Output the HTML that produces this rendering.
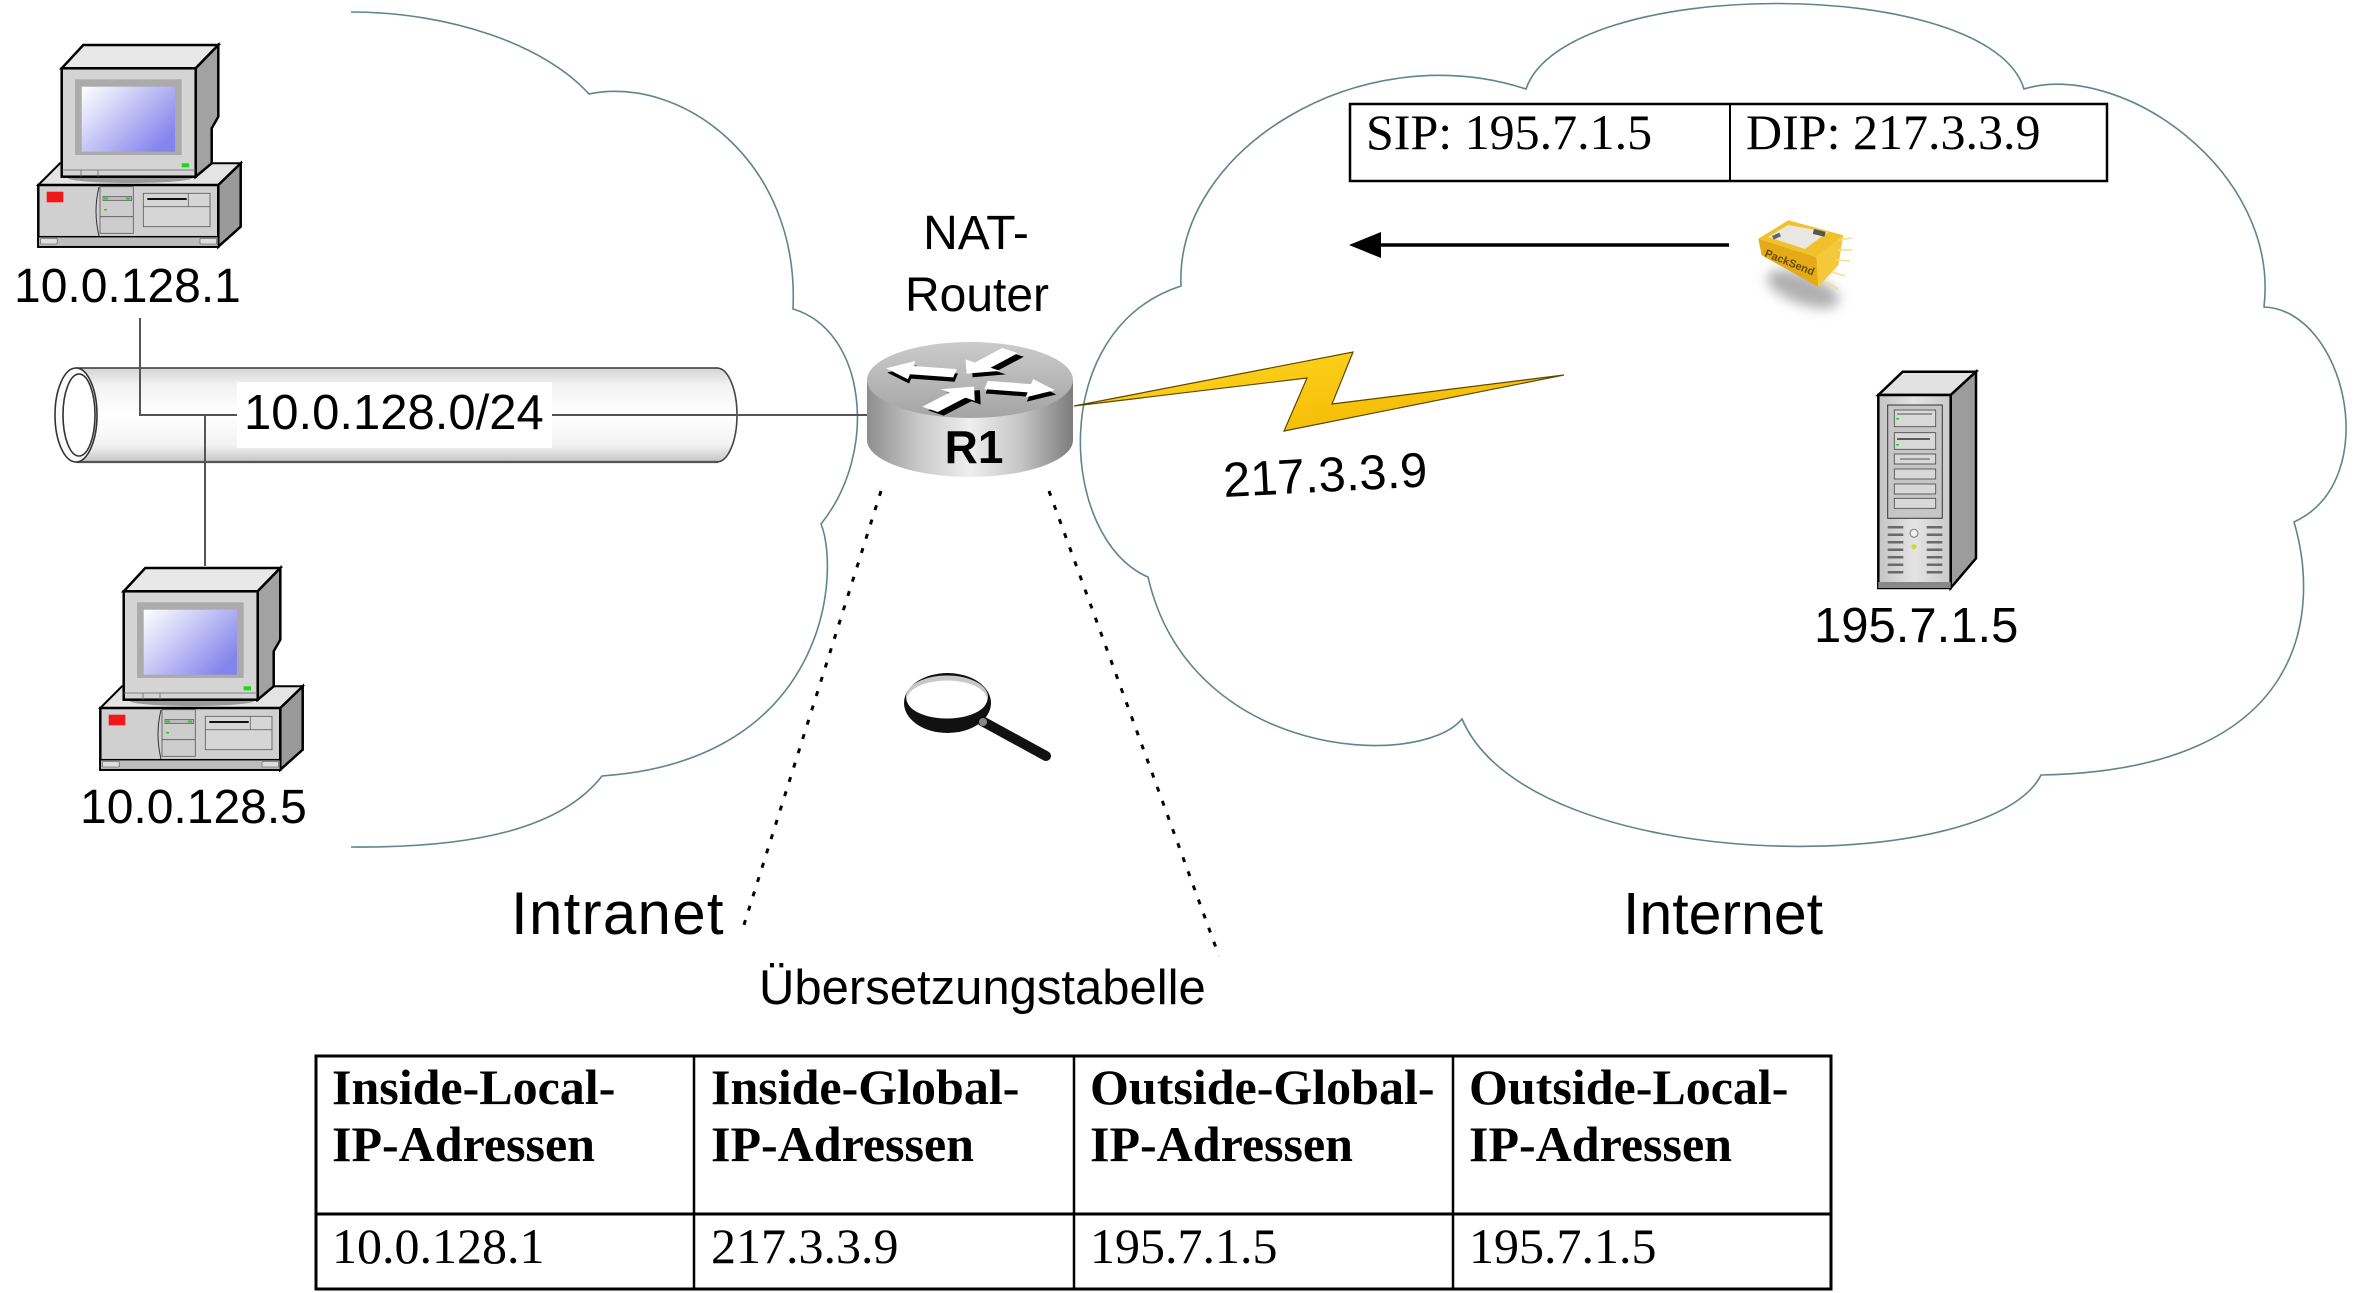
<!DOCTYPE html>
<html>
<head>
<meta charset="utf-8">
<style>
html,body{margin:0;padding:0;background:#fff;}
svg{display:block;}
.s{font-family:"Liberation Sans",Arial,sans-serif;fill:#000;}
.t{font-family:"Liberation Serif","Times New Roman",serif;fill:#000;}
</style>
</head>
<body>
<svg width="2372" height="1293" viewBox="0 0 2372 1293" xmlns="http://www.w3.org/2000/svg">
<defs>
  <linearGradient id="scr" x1="0" y1="0" x2="1" y2="0.7">
    <stop offset="0" stop-color="#ffffff"/>
    <stop offset="0.35" stop-color="#d6d6f8"/>
    <stop offset="1" stop-color="#8484ee"/>
  </linearGradient>
  <linearGradient id="tube" x1="0" y1="0" x2="0" y2="1">
    <stop offset="0" stop-color="#d4d4d4"/>
    <stop offset="0.18" stop-color="#f2f2f2"/>
    <stop offset="0.5" stop-color="#ffffff"/>
    <stop offset="0.82" stop-color="#f2f2f2"/>
    <stop offset="1" stop-color="#c4c4c4"/>
  </linearGradient>
  <linearGradient id="rbody" x1="0" y1="0" x2="1" y2="0">
    <stop offset="0" stop-color="#8e8e8e"/>
    <stop offset="0.25" stop-color="#c8c8c8"/>
    <stop offset="0.5" stop-color="#efefef"/>
    <stop offset="0.75" stop-color="#c4c4c4"/>
    <stop offset="1" stop-color="#7c7c7c"/>
  </linearGradient>
  <linearGradient id="rtop" x1="0" y1="0" x2="0" y2="1">
    <stop offset="0" stop-color="#cbcbcb"/>
    <stop offset="1" stop-color="#a4a4a4"/>
  </linearGradient>
  <linearGradient id="bolt" x1="0" y1="0" x2="1" y2="1">
    <stop offset="0" stop-color="#ffd820"/>
    <stop offset="1" stop-color="#f2b400"/>
  </linearGradient>
  <linearGradient id="srv" x1="0" y1="0" x2="1" y2="0">
    <stop offset="0" stop-color="#c4c4c4"/>
    <stop offset="0.5" stop-color="#e4e4e4"/>
    <stop offset="1" stop-color="#cacaca"/>
  </linearGradient>
  <filter id="blur" x="-50%" y="-50%" width="200%" height="200%">
    <feGaussianBlur stdDeviation="6"/>
  </filter>
  <g id="pc">
    <polygon points="38.3,185 60,163.3 240.7,163.3 218.3,185" fill="#e4e4e4" stroke="#000" stroke-width="2"/>
    <rect x="38.3" y="185" width="180" height="61.7" fill="#d0d0d0" stroke="#000" stroke-width="2.5"/>
    <polygon points="218.3,185 240.7,163.3 240.7,226.7 218.3,246.7" fill="#9a9a9a" stroke="#000" stroke-width="2.5"/>
    <rect x="46.7" y="191.7" width="16.6" height="10.6" fill="#f01818"/>
    <path d="M99,187 Q93,211 99,236" fill="none" stroke="#333" stroke-width="1"/>
    <rect x="100" y="186.7" width="33.3" height="46.6" fill="#cdcdcd" stroke="#555" stroke-width="0.8"/>
    <line x1="100" y1="216.7" x2="133.3" y2="216.7" stroke="#555" stroke-width="0.8"/>
    <rect x="103" y="196.5" width="28.7" height="4" fill="#bbb" stroke="#444" stroke-width="0.6"/>
    <rect x="104" y="197.5" width="4" height="2" fill="#2c2"/>
    <rect x="126" y="197.5" width="4" height="2" fill="#2c2"/>
    <rect x="104" y="209" width="3" height="1.5" fill="#2c2"/>
    <rect x="143.3" y="193.3" width="66.7" height="33.4" fill="#d6d6d6" stroke="#555" stroke-width="0.8"/>
    <line x1="143.3" y1="206.7" x2="210" y2="206.7" stroke="#666" stroke-width="0.8"/>
    <line x1="188.3" y1="193.3" x2="188.3" y2="206.7" stroke="#666" stroke-width="0.8"/>
    <rect x="147.3" y="198" width="39.4" height="2" fill="#111"/>
    <rect x="38.3" y="236.7" width="180" height="10" fill="#bdbdbd" stroke="#000" stroke-width="1.5"/>
    <rect x="40.5" y="238.3" width="16.7" height="5.7" fill="#ddd" stroke="#555" stroke-width="0.6" rx="1"/>
    <rect x="200" y="238.3" width="16.7" height="5.7" fill="#ddd" stroke="#555" stroke-width="0.6" rx="1"/>
    <ellipse cx="130" cy="178" rx="62" ry="5" fill="#9a9a9a"/>
    <polygon points="61.7,68.3 83.3,45 218.3,45 195.7,68.3" fill="#e8e8e8" stroke="#000" stroke-width="2.5"/>
    <polygon points="195.7,68.3 218.3,45 218.3,116.7 211.7,128.3 211.7,163.3 195.7,176.7" fill="#a2a2a2" stroke="#000" stroke-width="2.5"/>
    <rect x="61.7" y="68.3" width="134" height="108.4" fill="#d4d4d4" stroke="#000" stroke-width="2.5"/>
    <rect x="75" y="79.3" width="106.7" height="75.7" fill="#ababab"/>
    <rect x="81.7" y="86.7" width="93.3" height="65" fill="url(#scr)"/>
    <rect x="181.7" y="163.3" width="7.3" height="4" fill="#1d1"/>
    <line x1="61.7" y1="170" x2="195.7" y2="170" stroke="#666" stroke-width="0.8"/>
    <line x1="81" y1="170" x2="81" y2="176.7" stroke="#666" stroke-width="0.8"/>
    <line x1="98" y1="170" x2="98" y2="176.7" stroke="#666" stroke-width="0.8"/>
  </g>
  <g id="arr">
    <polygon points="0,-10 0,10 -44,10 -44,22 -70,0 -44,-22 -44,-10" />
  </g>
</defs>

<!-- Left cloud (partial) -->
<path d="M351,12 C450,12 545,45 589,94 C680,75 800,160 793,309 C865,330 880,450 821,524 C840,570 830,760 602,776 C560,830 470,848 351,847"
      fill="none" stroke="#5e858b" stroke-width="1.6"/>

<!-- Right cloud -->
<path d="M1526,89 C1565,-25 1990,-25 2024,89 C2120,60 2280,170 2264,307 C2345,310 2385,480 2294,522 C2320,610 2310,770 2041,775 C1990,878 1530,878 1462,719 C1420,770 1190,760 1148,577 C1060,540 1045,330 1181,286 C1175,150 1360,35 1526,89 Z"
      fill="none" stroke="#5e858b" stroke-width="1.6"/>

<!-- PCs -->
<use href="#pc"/>
<use href="#pc" transform="translate(62,523)"/>

<!-- Tube -->
<path d="M76,368 L717,368 A20,47 0 0 1 717,462 L76,462 Z" fill="url(#tube)" stroke="none"/>
<line x1="76" y1="368" x2="718" y2="368" stroke="#333" stroke-width="1.6"/>
<line x1="76" y1="462" x2="718" y2="462" stroke="#555" stroke-width="2.2"/>
<path d="M717,368 A20,47 0 0 1 717,462" fill="none" stroke="#444" stroke-width="1.6"/>
<ellipse cx="76" cy="415" rx="21" ry="47" fill="#fbfbfb" stroke="#333" stroke-width="1.6"/>
<ellipse cx="79" cy="415" rx="16" ry="41" fill="#fff" stroke="#333" stroke-width="1.6"/>

<!-- Connection lines -->
<polyline points="140,318 140,415 238,415" fill="none" stroke="#555" stroke-width="2"/>
<line x1="205" y1="415" x2="205" y2="566" stroke="#555" stroke-width="2"/>
<line x1="552" y1="415" x2="868" y2="415" stroke="#555" stroke-width="2"/>
<rect x="237" y="382" width="315" height="66" fill="#fff"/>

<!-- Router -->
<path d="M867,380 L867,440 A103,37 0 0 0 1073,440 L1073,380 Z" fill="url(#rbody)"/>
<ellipse cx="970" cy="380" rx="103" ry="38" fill="url(#rtop)"/>
<g transform="translate(970,380) scale(1,0.42)">
  <g transform="translate(-15,-16) rotate(9.9)"><use href="#arr" transform="translate(3,10)" fill="#000"/><use href="#arr" fill="#fff"/></g>
  <g transform="translate(40,-70) rotate(-51.7)"><use href="#arr" transform="translate(-3,10)" fill="#000"/><use href="#arr" fill="#fff"/></g>
  <g transform="translate(-40,70) rotate(129)"><use href="#arr" transform="translate(3,-10)" fill="#000"/><use href="#arr" fill="#fff"/></g>
  <g transform="translate(16,12) rotate(189.9)"><use href="#arr" transform="translate(-3,-10)" fill="#000"/><use href="#arr" fill="#fff"/></g>
</g>
<text class="s" x="974" y="463" font-size="46" font-weight="bold" text-anchor="middle">R1</text>

<!-- Lightning -->
<polygon points="1074,406 1307,378 1284,431 1564,375 1332,404 1353,352" fill="url(#bolt)" stroke="#5a4800" stroke-width="1.2" stroke-linejoin="miter"/>

<!-- Dotted lines -->
<line x1="881" y1="491" x2="742" y2="931" stroke="#000" stroke-width="3" stroke-dasharray="5 10"/>
<line x1="1049" y1="491" x2="1219" y2="956" stroke="#000" stroke-width="3" stroke-dasharray="5 10"/>

<!-- Magnifier -->
<line x1="982" y1="721" x2="1046" y2="756" stroke="#111" stroke-width="10" stroke-linecap="round"/>
<ellipse cx="947.5" cy="703" rx="43.5" ry="30" fill="#111"/>
<ellipse cx="947" cy="697" rx="41" ry="21.5" fill="#c8c8c8"/>
<ellipse cx="947" cy="699.5" rx="40" ry="19" fill="#fff"/>
<circle cx="983" cy="722" r="4" fill="#888"/>

<!-- Packet -->
<ellipse cx="1803" cy="289" rx="38" ry="15" transform="rotate(20 1803 289)" fill="#b0b0b0" filter="url(#blur)"/>
<polygon points="1758.3,238.7 1816.7,257 1818.3,287 1761.7,255.3" fill="#e4aa18"/>
<polygon points="1816.7,257 1843.3,235.3 1838.3,265.3 1818.3,287" fill="#f4c838"/>
<polygon points="1758.3,238.7 1788.3,220.3 1843.3,235.3 1816.7,257" fill="#f2c02a"/>
<polygon points="1768,237 1788,225 1828,232 1805,249" fill="#e9e7e2"/>
<rect x="1814" y="229" width="12" height="5" fill="#555" transform="rotate(14 1814 229)"/>
<rect x="1772" y="236" width="8" height="4" fill="#666" transform="rotate(-25 1772 236)"/>
<text x="1764" y="256" font-family="Liberation Sans, sans-serif" font-size="11" font-weight="bold" fill="#6a4c00" transform="rotate(22 1764 256)">PackSend</text>
<g stroke="#f4dc90" stroke-width="1.5">
  <line x1="1838" y1="240" x2="1852" y2="238"/>
  <line x1="1838" y1="250" x2="1852" y2="250"/>
  <line x1="1836" y1="260" x2="1850" y2="261"/>
  <line x1="1832" y1="272" x2="1845" y2="276"/>
  <line x1="1826" y1="282" x2="1838" y2="289"/>
</g>

<!-- SIP / DIP box -->
<rect x="1350" y="104" width="757" height="77" fill="none" stroke="#000" stroke-width="2.5"/>
<line x1="1730" y1="104" x2="1730" y2="181" stroke="#000" stroke-width="2"/>
<text class="t" x="1366" y="149" font-size="50">SIP: 195.7.1.5</text>
<text class="t" x="1746" y="149" font-size="50">DIP: 217.3.3.9</text>

<!-- Arrow -->
<line x1="1729" y1="245" x2="1376" y2="245" stroke="#000" stroke-width="3.5"/>
<polygon points="1349,245 1381,232 1381,258" fill="#000"/>

<!-- Server -->
<polygon points="1878.3,395 1902.7,371.7 1976,371.7 1950.7,395" fill="#e2e2e2" stroke="#000" stroke-width="2.5"/>
<polygon points="1950.7,395 1976,371.7 1976,558.3 1950.7,588" fill="#9c9c9c" stroke="#000" stroke-width="2.5"/>
<rect x="1878.3" y="395" width="72.4" height="193" fill="url(#srv)" stroke="#000" stroke-width="2.5"/>
<rect x="1887.7" y="405" width="54.6" height="113.3" fill="#c6c6c6" stroke="#333" stroke-width="1"/>
<g fill="#d8d8d8" stroke="#444" stroke-width="0.8">
  <rect x="1894.3" y="410" width="41.4" height="16.7"/>
  <rect x="1894.3" y="432.7" width="41.4" height="16.6"/>
  <rect x="1894.3" y="454" width="41.4" height="10"/>
  <rect x="1894.3" y="469" width="41.4" height="10"/>
  <rect x="1894.3" y="484" width="41.4" height="10"/>
  <rect x="1894.3" y="498.3" width="41.4" height="10"/>
</g>
<line x1="1897" y1="414" x2="1932" y2="414" stroke="#555" stroke-width="1"/>
<line x1="1897" y1="439" x2="1930" y2="439" stroke="#333" stroke-width="1.5"/>
<line x1="1900" y1="459" x2="1930" y2="459" stroke="#555" stroke-width="1"/>
<rect x="1896" y="418" width="3" height="1.5" fill="#2c2"/>
<rect x="1896" y="444" width="3" height="1.5" fill="#2c2"/>
<g fill="#6a6a6a">
  <rect x="1887.7" y="526" width="15.6" height="2.5"/><rect x="1926.7" y="526" width="15.6" height="2.5"/>
  <rect x="1887.7" y="533.5" width="15.6" height="2.5"/><rect x="1926.7" y="533.5" width="15.6" height="2.5"/>
  <rect x="1887.7" y="541" width="15.6" height="2.5"/><rect x="1926.7" y="541" width="15.6" height="2.5"/>
  <rect x="1887.7" y="548.5" width="15.6" height="2.5"/><rect x="1926.7" y="548.5" width="15.6" height="2.5"/>
  <rect x="1887.7" y="556" width="15.6" height="2.5"/><rect x="1926.7" y="556" width="15.6" height="2.5"/>
  <rect x="1887.7" y="563.5" width="15.6" height="2.5"/><rect x="1926.7" y="563.5" width="15.6" height="2.5"/>
  <rect x="1887.7" y="571" width="15.6" height="2.5"/><rect x="1926.7" y="571" width="15.6" height="2.5"/>
</g>
<circle cx="1914" cy="533.3" r="4" fill="#eee" stroke="#777" stroke-width="1"/>
<circle cx="1914" cy="546.7" r="2.5" fill="#cddc20"/>
<rect x="1878.3" y="582" width="72.4" height="6" fill="#888"/>

<!-- Labels -->
<text class="s" x="14" y="302" font-size="48">10.0.128.1</text>
<text class="s" x="976" y="249" font-size="48" text-anchor="middle">NAT-</text>
<text class="s" x="977" y="311" font-size="48" text-anchor="middle">Router</text>
<text class="s" x="244" y="429" font-size="49">10.0.128.0/24</text>
<text class="s" x="1224" y="497" font-size="49" transform="rotate(-3 1224 497)">217.3.3.9</text>
<text class="s" x="80" y="823" font-size="48">10.0.128.5</text>
<text class="s" x="1814" y="642" font-size="49">195.7.1.5</text>
<text class="s" x="511" y="934" font-size="60" letter-spacing="1.3">Intranet</text>
<text class="s" x="1623" y="934" font-size="59">Internet</text>
<text class="s" x="759" y="1004" font-size="49">Übersetzungstabelle</text>

<!-- Table -->
<rect x="316" y="1056" width="1515" height="233" fill="none" stroke="#000" stroke-width="3"/>
<line x1="316" y1="1214" x2="1831" y2="1214" stroke="#000" stroke-width="3"/>
<line x1="694" y1="1056" x2="694" y2="1289" stroke="#000" stroke-width="2.5"/>
<line x1="1074" y1="1056" x2="1074" y2="1289" stroke="#000" stroke-width="2.5"/>
<line x1="1453" y1="1056" x2="1453" y2="1289" stroke="#000" stroke-width="2.5"/>

<g class="t" font-size="50" font-weight="bold">
  <text class="t" x="332" y="1104" font-weight="bold">Inside-Local-</text>
  <text class="t" x="332" y="1161" font-weight="bold">IP-Adressen</text>
  <text class="t" x="711" y="1104" font-weight="bold">Inside-Global-</text>
  <text class="t" x="711" y="1161" font-weight="bold">IP-Adressen</text>
  <text class="t" x="1090" y="1104" font-weight="bold">Outside-Global-</text>
  <text class="t" x="1090" y="1161" font-weight="bold">IP-Adressen</text>
  <text class="t" x="1469" y="1104" font-weight="bold">Outside-Local-</text>
  <text class="t" x="1469" y="1161" font-weight="bold">IP-Adressen</text>
</g>
<text class="t" x="332" y="1263" font-size="50">10.0.128.1</text>
<text class="t" x="711" y="1263" font-size="50">217.3.3.9</text>
<text class="t" x="1090" y="1263" font-size="50">195.7.1.5</text>
<text class="t" x="1469" y="1263" font-size="50">195.7.1.5</text>
</svg>
</body>
</html>
